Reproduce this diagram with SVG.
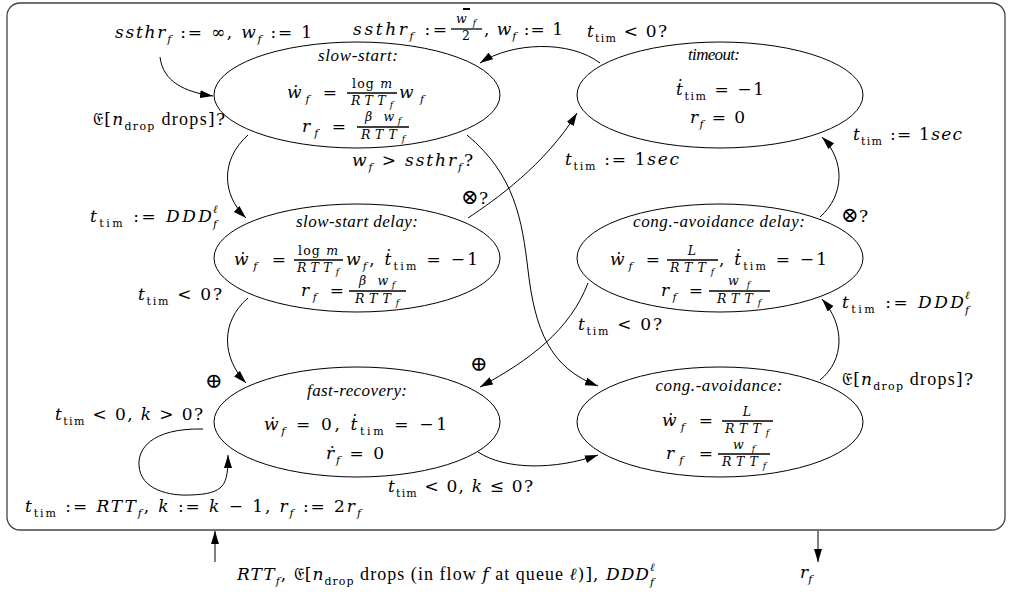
<svg xmlns="http://www.w3.org/2000/svg" width="1010" height="598" viewBox="0 0 1010 598">
<style>
text{font-family:"DejaVu Serif","Liberation Serif",serif;fill:#000}
.m{font-size:17px}
.it{font-style:italic}
.sb{font-size:11px;font-style:italic}
.sr{font-size:11px;font-style:normal}
.fr{font-size:12.5px}
.fs{font-size:9px;font-style:italic}
.op{font-size:21px}
.rm{font-family:"Liberation Serif","Times New Roman",serif;font-size:18px;font-style:normal}
.ti{font-family:"Liberation Serif","Times New Roman",serif;font-size:17px;font-style:italic}
.el{fill:#fff;stroke:#000;stroke-width:1}
.bar{stroke:#000;stroke-width:1.3}
.cn{fill:none;stroke:#000;stroke-width:1}
</style>
<defs>
<marker id="ah" viewBox="0 0 13 8" refX="13" refY="4" markerWidth="13" markerHeight="8" markerUnits="userSpaceOnUse" orient="auto"><path d="M0,0 L13,4 L0,8 Z" fill="#000"/></marker>
</defs>
<rect x="7" y="3" width="998" height="527" rx="13" fill="none" stroke="#444" stroke-width="1.3"/>

<g id="connectors">
<path class="cn" d="M160,57 C163,82 185,92 213,96" marker-end="url(#ah)"/>
<path class="cn" d="M600,63 C570,40 512,42 480,63" marker-end="url(#ah)"/>
<path class="cn" d="M248,135 C220,160 222,195 246,218" marker-end="url(#ah)"/>
<path class="cn" d="M248,298 C220,322 222,358 246,383" marker-end="url(#ah)"/>
<path class="cn" d="M467,135 C515,175 522,220 528,270 C535,330 550,368 598,386" marker-end="url(#ah)"/>
<path class="cn" d="M468,218 C495,200 545,165 577,113" marker-end="url(#ah)"/>
<path class="cn" d="M820,217 C845,195 845,160 822,137" marker-end="url(#ah)"/>
<path class="cn" d="M820,380 C845,360 845,325 822,299" marker-end="url(#ah)"/>
<path class="cn" d="M588,283 C570,330 530,360 480,387" marker-end="url(#ah)"/>
<path class="cn" d="M478,452 C505,470 555,470 598,455" marker-end="url(#ah)"/>
<path class="cn" d="M203,429 C150,428 138,450 139,465 C140,490 170,496 190,495 C225,494 228,485 228,455" marker-end="url(#ah)"/>
<path class="cn" d="M215,562 L215,531" marker-end="url(#ah)"/>
<path class="cn" d="M818,531 L818,562" marker-end="url(#ah)"/>
</g>

<g id="slow-start">
<ellipse class="el" cx="357" cy="95" rx="143" ry="53"/>
<text class="ti" x="358" y="61" text-anchor="middle" textLength="80">slow-start:</text>
<text class="m" x="287" y="98" textLength="50"><tspan class="it">ẇ</tspan><tspan class="sb" dy="5">f</tspan><tspan dy="-5"> =</tspan></text>
<text class="fr" x="372" y="88" text-anchor="middle" textLength="40">log <tspan class="it">m</tspan></text>
<line class="bar" x1="347" y1="93" x2="397" y2="93"/>
<text class="fr it" x="372" y="105" text-anchor="middle" textLength="42">RTT<tspan class="fs" dy="3">f</tspan></text>
<text class="m" x="399" y="98" textLength="25"><tspan class="it">w</tspan><tspan class="sb" dy="5">f</tspan></text>
<text class="m" x="302" y="132" textLength="44"><tspan class="it">r</tspan><tspan class="sb" dy="5">f</tspan><tspan dy="-5"> =</tspan></text>
<text class="fr it" x="383" y="121" text-anchor="middle" textLength="36">β w<tspan class="fs" dy="3">f</tspan></text>
<line class="bar" x1="357" y1="127" x2="409" y2="127"/>
<text class="fr it" x="383" y="139" text-anchor="middle" textLength="44">RTT<tspan class="fs" dy="3">f</tspan></text>
</g>

<g id="timeout">
<ellipse class="el" cx="720" cy="95" rx="143" ry="53"/>
<text class="ti" x="714" y="60" text-anchor="middle" textLength="52">timeout:</text>
<text class="m" x="676" y="95" textLength="88"><tspan class="it">ṫ</tspan><tspan class="sr" dy="5">tim</tspan><tspan dy="-5"> = −1</tspan></text>
<text class="m" x="690" y="123" textLength="55"><tspan class="it">r</tspan><tspan class="sb" dy="5">f</tspan><tspan dy="-5"> = 0</tspan></text>
</g>

<g id="slow-start-delay">
<ellipse class="el" cx="357" cy="258" rx="143" ry="54"/>
<text class="ti" x="357" y="227" text-anchor="middle" textLength="122">slow-start delay:</text>
<text class="m" x="234" y="265" textLength="52"><tspan class="it">ẇ</tspan><tspan class="sb" dy="5">f</tspan><tspan dy="-5"> =</tspan></text>
<text class="fr" x="318" y="255" text-anchor="middle" textLength="40">log <tspan class="it">m</tspan></text>
<line class="bar" x1="294" y1="260" x2="343" y2="260"/>
<text class="fr it" x="318" y="272" text-anchor="middle" textLength="42">RTT<tspan class="fs" dy="3">f</tspan></text>
<text class="m" x="346" y="265" textLength="132"><tspan class="it">w</tspan><tspan class="sb" dy="5">f</tspan><tspan dy="-5">, </tspan><tspan class="it">ṫ</tspan><tspan class="sr" dy="5">tim</tspan><tspan dy="-5"> = −1</tspan></text>
<text class="m" x="301" y="296" textLength="43"><tspan class="it">r</tspan><tspan class="sb" dy="5">f</tspan><tspan dy="-5"> =</tspan></text>
<text class="fr it" x="377" y="285" text-anchor="middle" textLength="36">β w<tspan class="fs" dy="3">f</tspan></text>
<line class="bar" x1="349" y1="291" x2="406" y2="291"/>
<text class="fr it" x="377" y="303" text-anchor="middle" textLength="44">RTT<tspan class="fs" dy="3">f</tspan></text>
</g>

<g id="cong-avoidance-delay">
<ellipse class="el" cx="720" cy="258" rx="143" ry="54"/>
<text class="ti" x="719" y="227" text-anchor="middle" textLength="172">cong.-avoidance delay:</text>
<text class="m" x="610" y="265" textLength="50"><tspan class="it">ẇ</tspan><tspan class="sb" dy="5">f</tspan><tspan dy="-5"> =</tspan></text>
<text class="fr it" x="692" y="255" text-anchor="middle">L</text>
<line class="bar" x1="667" y1="260" x2="718" y2="260"/>
<text class="fr it" x="692" y="272" text-anchor="middle" textLength="44">RTT<tspan class="fs" dy="3">f</tspan></text>
<text class="m" x="719" y="265" textLength="108">, <tspan class="it">ṫ</tspan><tspan class="sr" dy="5">tim</tspan><tspan dy="-5"> = −1</tspan></text>
<text class="m" x="661" y="296" textLength="42"><tspan class="it">r</tspan><tspan class="sb" dy="5">f</tspan><tspan dy="-5"> =</tspan></text>
<text class="fr it" x="739" y="285" text-anchor="middle" textLength="22">w<tspan class="fs" dy="3">f</tspan></text>
<line class="bar" x1="709" y1="291" x2="770" y2="291"/>
<text class="fr it" x="739" y="303" text-anchor="middle" textLength="44">RTT<tspan class="fs" dy="3">f</tspan></text>
</g>

<g id="fast-recovery">
<ellipse class="el" cx="357" cy="422" rx="143" ry="55"/>
<text class="ti" x="357" y="396" text-anchor="middle" textLength="100">fast-recovery:</text>
<text class="m" x="264" y="430" textLength="183"><tspan class="it">ẇ</tspan><tspan class="sb" dy="5">f</tspan><tspan dy="-5"> = 0,   </tspan><tspan class="it">ṫ</tspan><tspan class="sr" dy="5">tim</tspan><tspan dy="-5"> = −1</tspan></text>
<text class="m" x="326" y="459" textLength="58"><tspan class="it">ṙ</tspan><tspan class="sb" dy="5">f</tspan><tspan dy="-5"> = 0</tspan></text>
</g>

<g id="cong-avoidance">
<ellipse class="el" cx="720" cy="422" rx="143" ry="55"/>
<text class="ti" x="719" y="391" text-anchor="middle" textLength="127">cong.-avoidance:</text>
<text class="m" x="662" y="426" textLength="51"><tspan class="it">ẇ</tspan><tspan class="sb" dy="5">f</tspan><tspan dy="-5"> =</tspan></text>
<text class="fr it" x="747" y="416" text-anchor="middle">L</text>
<line class="bar" x1="722" y1="421" x2="773" y2="421"/>
<text class="fr it" x="747" y="433" text-anchor="middle" textLength="44">RTT<tspan class="fs" dy="3">f</tspan></text>
<text class="m" x="666" y="459" textLength="47"><tspan class="it">r</tspan><tspan class="sb" dy="5">f</tspan><tspan dy="-5"> =</tspan></text>
<text class="fr it" x="744" y="449" text-anchor="middle" textLength="22">w<tspan class="fs" dy="3">f</tspan></text>
<line class="bar" x1="718" y1="454" x2="770" y2="454"/>
<text class="fr it" x="744" y="466" text-anchor="middle" textLength="44">RTT<tspan class="fs" dy="3">f</tspan></text>
</g>

<g id="labels">
<text class="m" x="115" y="38" textLength="197"><tspan class="it">ssthr</tspan><tspan class="sb" dy="5">f</tspan><tspan dy="-5"> := ∞, </tspan><tspan class="it">w</tspan><tspan class="sb" dy="5">f</tspan><tspan dy="-5"> := 1</tspan></text>
<text class="m" x="353" y="35" textLength="94"><tspan class="it">ssthr</tspan><tspan class="sb" dy="5">f</tspan><tspan dy="-5"> :=</tspan></text>
<text class="fr it" x="466" y="23" text-anchor="middle" textLength="20">w<tspan class="fs" dy="3">f</tspan></text>
<line x1="463" y1="9" x2="470" y2="9" stroke="#000" stroke-width="2"/>
<line class="bar" x1="451" y1="29" x2="482" y2="29"/>
<text class="fr" x="466" y="40" text-anchor="middle">2</text>
<text class="m" x="484" y="35" textLength="79">, <tspan class="it">w</tspan><tspan class="sb" dy="5">f</tspan><tspan dy="-5"> := 1</tspan></text>
<text class="m" x="587" y="37" textLength="80"><tspan class="it">t</tspan><tspan class="sr" dy="5">tim</tspan><tspan dy="-5"> &lt; 0?</tspan></text>
<text class="m" x="93" y="125" textLength="132">𝔈[<tspan class="it">n</tspan><tspan class="sr" dy="5">drop</tspan><tspan class="rm" dy="-5"> drops</tspan>]?</text>
<text class="m" x="352" y="166" textLength="121"><tspan class="it">w</tspan><tspan class="sb" dy="5">f</tspan><tspan dy="-5"> &gt; </tspan><tspan class="it">ssthr</tspan><tspan class="sb" dy="5">f</tspan><tspan dy="-5">?</tspan></text>
<text class="m" x="565" y="165" textLength="114"><tspan class="it">t</tspan><tspan class="sr" dy="5">tim</tspan><tspan dy="-5"> := 1</tspan><tspan class="it">sec</tspan></text>
<text class="m" x="461" y="204" textLength="27"><tspan class="op">⊗</tspan>?</text>
<text class="m" x="853" y="140" textLength="109"><tspan class="it">t</tspan><tspan class="sr" dy="5">tim</tspan><tspan dy="-5"> := 1</tspan><tspan class="it">sec</tspan></text>
<text class="m" x="90" y="222" textLength="122"><tspan class="it">t</tspan><tspan class="sr" dy="5">tim</tspan><tspan dy="-5"> := </tspan><tspan class="it">DDD</tspan></text>
<text class="sb" x="213" y="213">ℓ</text><text class="sb" x="213" y="228">f</text>
<text class="m" x="138" y="300" textLength="84"><tspan class="it">t</tspan><tspan class="sr" dy="5">tim</tspan><tspan dy="-5"> &lt; 0?</tspan></text>
<text class="op" x="205" y="388">⊕</text>
<text class="m" x="841" y="222" textLength="27"><tspan class="op">⊗</tspan>?</text>
<text class="m" x="842" y="308" textLength="122"><tspan class="it">t</tspan><tspan class="sr" dy="5">tim</tspan><tspan dy="-5"> := </tspan><tspan class="it">DDD</tspan></text>
<text class="sb" x="965" y="299">ℓ</text><text class="sb" x="965" y="314">f</text>
<text class="m" x="578" y="330" textLength="84"><tspan class="it">t</tspan><tspan class="sr" dy="5">tim</tspan><tspan dy="-5"> &lt; 0?</tspan></text>
<text class="op" x="470" y="371">⊕</text>
<text class="m" x="842" y="385" textLength="131">𝔈[<tspan class="it">n</tspan><tspan class="sr" dy="5">drop</tspan><tspan class="rm" dy="-5"> drops</tspan>]?</text>
<text class="m" x="55" y="420" textLength="148"><tspan class="it">t</tspan><tspan class="sr" dy="5">tim</tspan><tspan dy="-5"> &lt; 0, </tspan><tspan class="it">k</tspan> &gt; 0?</text>
<text class="m" x="25" y="512" textLength="336"><tspan class="it">t</tspan><tspan class="sr" dy="5">tim</tspan><tspan dy="-5"> := </tspan><tspan class="it">RTT</tspan><tspan class="sb" dy="5">f</tspan><tspan dy="-5">, </tspan><tspan class="it">k</tspan> := <tspan class="it">k</tspan> − 1, <tspan class="it">r</tspan><tspan class="sb" dy="5">f</tspan><tspan dy="-5"> := 2</tspan><tspan class="it">r</tspan><tspan class="sb" dy="5">f</tspan></text>
<text class="m" x="388" y="492" textLength="145"><tspan class="it">t</tspan><tspan class="sr" dy="5">tim</tspan><tspan dy="-5"> &lt; 0, </tspan><tspan class="it">k</tspan> ≤ 0?</text>
<text class="m" x="237" y="580" textLength="412"><tspan class="it">RTT</tspan><tspan class="sb" dy="5">f</tspan><tspan dy="-5">, </tspan>𝔈[<tspan class="it">n</tspan><tspan class="sr" dy="5">drop</tspan><tspan class="rm" dy="-5"> drops (in flow </tspan><tspan class="it">f</tspan><tspan class="rm"> at queue </tspan><tspan class="it">ℓ</tspan>)], <tspan class="it">DDD</tspan></text>
<text class="sb" x="650" y="571">ℓ</text><text class="sb" x="650" y="586">f</text>
<text class="m" x="800" y="578"><tspan class="it">r</tspan><tspan class="sb" dy="5">f</tspan></text>
</g>
</svg>
